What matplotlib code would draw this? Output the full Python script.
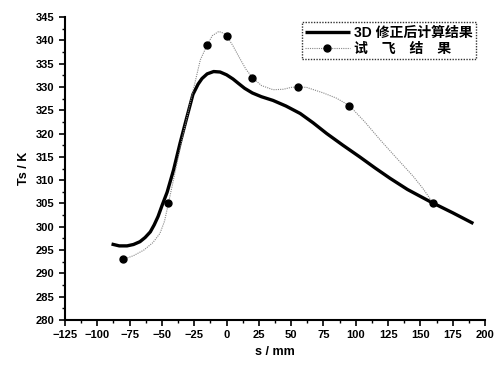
import matplotlib.pyplot as plt
from matplotlib.ticker import MultipleLocator

plt.rcParams['font.family'] = ['Liberation Sans', 'Noto Sans CJK SC']

# 3D 修正后计算结果
calc_s = [-89, -83, -77, -72, -67, -63, -59, -56, -53, -50, -46, -41, -36,
          -31, -26, -22, -19, -15, -10, -5, 0, 5, 9, 14, 20, 27, 36, 46,
          57, 67, 77.5, 90, 103, 115, 126.5, 140, 157.5, 175, 191]
calc_T = [296.3, 295.9, 295.9, 296.2, 296.8, 297.7, 298.9, 300.4, 302.2,
          304.5, 307.4, 312.2, 317.9, 323.2, 328.4, 330.6, 331.8, 332.8,
          333.3, 333.2, 332.6, 331.7, 330.8, 329.7, 328.7, 327.9, 327.1,
          325.9, 324.3, 322.3, 320.0, 317.5, 315.0, 312.6, 310.4, 308.0,
          305.4, 303.0, 300.7]

# 试飞结果 (markers) and the thin connecting curve
exp_s = [-80, -45, -15, 0, 20, 55, 95, 160]
exp_T = [293, 305, 339, 341, 332, 330, 326, 305]

line_s = [-80, -72, -64, -57, -51.5, -48, -45, -40, -33.5, -27, -20.3, -15,
          -11, -6, -2, 0, 5, 10.5, 15, 20, 27, 36, 44, 50, 55, 62, 75, 85,
          95, 107, 119, 132, 144.5, 152, 160]
line_T = [293.0, 293.8, 295.0, 296.6, 298.6, 301.2, 305.0, 311.5, 320.0,
          327.9, 335.8, 339.0, 341.0, 341.9, 341.5, 341.0, 338.8, 336.0,
          333.8, 332.0, 330.3, 329.4, 329.5, 329.9, 330.0, 329.9, 328.7,
          327.6, 326.0, 322.5, 318.6, 314.6, 310.8, 308.2, 305.0]

fig = plt.figure(figsize=(4.94, 3.65), dpi=100)
ax = fig.add_axes([0.1316, 0.1233, 0.8502, 0.8301])

ax.plot(calc_s, calc_T, color='black', lw=2.4, solid_capstyle='butt',
        solid_joinstyle='round', label='3D 修正后计算结果')
ax.plot(line_s, line_T, color='#888888', lw=0.8, ls=(0, (1, 1)))
ax.plot(exp_s, exp_T, ls='none', marker='o', ms=5, color='black')
# legend proxy for the test data
ax.plot([], [], color='#888888', lw=0.8, ls=(0, (1, 1)), marker='o', ms=5,
        mfc='black', mec='black', label='试　飞　结　果')

ax.set_xlim(-125, 200)
ax.set_ylim(280, 345)
ax.xaxis.set_major_locator(MultipleLocator(25))
ax.xaxis.set_minor_locator(MultipleLocator(12.5))
ax.yaxis.set_major_locator(MultipleLocator(5))
ax.yaxis.set_minor_locator(MultipleLocator(2.5))
ax.spines['top'].set_visible(False)
ax.spines['right'].set_visible(False)
ax.spines['left'].set_linewidth(1.5)
ax.spines['bottom'].set_linewidth(1.5)
ax.tick_params(which='major', direction='out', length=4, width=1.2,
               labelsize=8)
ax.tick_params(which='minor', direction='out', length=2, width=1)
for lab in ax.get_xticklabels() + ax.get_yticklabels():
    lab.set_fontweight('bold')

ax.set_xlabel('s / mm', fontsize=9, fontweight='bold')
ax.set_ylabel('Ts / K', fontsize=9, fontweight='bold')

leg = ax.legend(loc='upper right', bbox_to_anchor=(0.995, 1.005),
                fontsize=10, frameon=True, fancybox=False, edgecolor='black',
                handlelength=3.2, handletextpad=0.3, borderpad=0.25,
                labelspacing=0.15)
leg.get_frame().set_linewidth(1.0)
leg.get_frame().set_linestyle((0, (1, 1)))
for t in leg.get_texts():
    t.set_fontweight('bold')

fig.savefig('out.png', dpi=100)
